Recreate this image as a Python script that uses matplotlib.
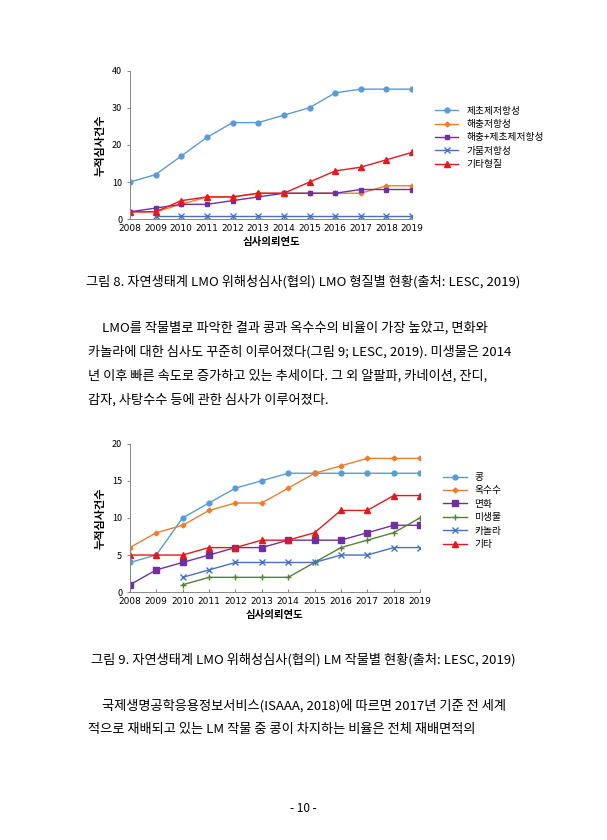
import numpy as np
import matplotlib.pyplot as plt

plt.rcParams['font.family'] = ['Noto Sans CJK KR', 'DejaVu Sans']

years = list(range(2008, 2020))

# 그림 8
herb = [10, 12, 17, 22, 26, 26, 28, 30, 34, 35, 35, 35]
insect = [2, 2, 4, 6, 6, 7, 7, 7, 7, 7, 9, 9]
insect_herb = [2, 3, 4, 4, 5, 6, 7, 7, 7, 8, 8, 8]
drought = [np.nan, 1, 1, 1, 1, 1, 1, 1, 1, 1, 1, 1]
other1 = [2, 2, 5, 6, 6, 7, 7, 10, 13, 14, 16, 18]

# 그림 9
soy = [4, 5, 10, 12, 14, 15, 16, 16, 16, 16, 16, 16]
corn = [6, 8, 9, 11, 12, 12, 14, 16, 17, 18, 18, 18]
cotton = [1, 3, 4, 5, 6, 6, 7, 7, 7, 8, 9, 9]
microbe = [np.nan, np.nan, 1, 2, 2, 2, 2, 4, 6, 7, 8, 10]
canola = [np.nan, np.nan, 2, 3, 4, 4, 4, 4, 5, 5, 6, 6]
other2 = [5, 5, 5, 6, 6, 7, 7, 8, 11, 11, 13, 13]

fig = plt.figure(figsize=(6.07, 8.4), dpi=100)


def style_ax(ax, ymax, step):
    ax.set_xlim(2008, 2019)
    ax.set_ylim(0, ymax)
    ax.set_xticks(years)
    ax.set_yticks(range(0, ymax + 1, step))
    ax.tick_params(labelsize=6.5, length=2, color='#888888')
    ax.tick_params(axis='x', direction='in')
    for s in ['top', 'right']:
        ax.spines[s].set_visible(False)
    for s in ['left', 'bottom']:
        ax.spines[s].set_color('#888888')
        ax.spines[s].set_linewidth(0.7)
    ax.set_xlabel('심사의뢰연도', fontsize=7.5, fontweight='bold', labelpad=3)
    ax.set_ylabel('누적심사건수', fontsize=8, fontweight='bold', labelpad=4)
    for lab in ax.get_xticklabels():
        lab.set_fontfamily('DejaVu Sans')
    ax.legend(loc='center left', bbox_to_anchor=(1.05, 0.55), frameon=False,
              fontsize=7, handlelength=2.4, labelspacing=0.35)


ax1 = fig.add_axes([0.214, 0.739, 0.465, 0.177])
ax1.plot(years, herb, color='#5b9bd5', marker='o', ms=3.5, lw=1, label='제초제저항성')
ax1.plot(years, insect, color='#ed7d31', marker='D', ms=2.5, lw=1, label='해충저항성')
ax1.plot(years, insect_herb, color='#7030a0', marker='s', ms=3.5, lw=1, label='해충+제초제저항성')
ax1.plot(years, drought, color='#4472c4', marker='x', ms=4, lw=1, label='가뭄저항성')
ax1.plot(years, other1, color='#e31a1c', marker='^', ms=4, lw=1, label='기타형질')
style_ax(ax1, 40, 10)

ax2 = fig.add_axes([0.214, 0.295, 0.478, 0.177])
ax2.plot(years, soy, color='#5b9bd5', marker='o', ms=3.5, lw=1, label='콩')
ax2.plot(years, corn, color='#ed7d31', marker='D', ms=2.5, lw=1, label='옥수수')
ax2.plot(years, cotton, color='#7030a0', marker='s', ms=4, lw=1, label='면화')
ax2.plot(years, microbe, color='#548235', marker='+', ms=5, lw=1, label='미생물')
ax2.plot(years, canola, color='#4472c4', marker='x', ms=4, lw=1, label='카놀라')
ax2.plot(years, other2, color='#e31a1c', marker='^', ms=4, lw=1, label='기타')
style_ax(ax2, 20, 5)

fs = 9.5
fig.text(0.5, 1 - 282 / 840, '그림 8. 자연생태계 LMO 위해성심사(협의) LMO 형질별 현황(출처: LESC, 2019)',
         ha='center', va='center', fontsize=fs)
para1 = ['LMO를 작물별로 파악한 결과 콩과 옥수수의 비율이 가장 높았고, 면화와',
         '카놀라에 대한 심사도 꾸준히 이루어졌다(그림 9; LESC, 2019). 미생물은 2014',
         '년 이후 빠른 속도로 증가하고 있는 추세이다. 그 외 알팔파, 카네이션, 잔디,',
         '감자, 사탕수수 등에 관한 심사가 이루어졌다.']
for i, line in enumerate(para1):
    x = 102 if i == 0 else 88
    fig.text(x / 607, 1 - (328 + 24 * i) / 840, line, ha='left', va='center', fontsize=fs)

fig.text(0.5, 1 - 660 / 840, '그림 9. 자연생태계 LMO 위해성심사(협의) LM 작물별 현황(출처: LESC, 2019)',
         ha='center', va='center', fontsize=fs)
para2 = ['국제생명공학응용정보서비스(ISAAA, 2018)에 따르면 2017년 기준 전 세계',
         '적으로 재배되고 있는 LM 작물 중 콩이 차지하는 비율은 전체 재배면적의']
for i, line in enumerate(para2):
    x = 102 if i == 0 else 88
    fig.text(x / 607, 1 - (706 + 24 * i) / 840, line, ha='left', va='center', fontsize=fs)

fig.text(0.5, 1 - 808 / 840, '- 10 -', ha='center', va='center', fontsize=8.5)

fig.savefig('out.png', dpi=100)
